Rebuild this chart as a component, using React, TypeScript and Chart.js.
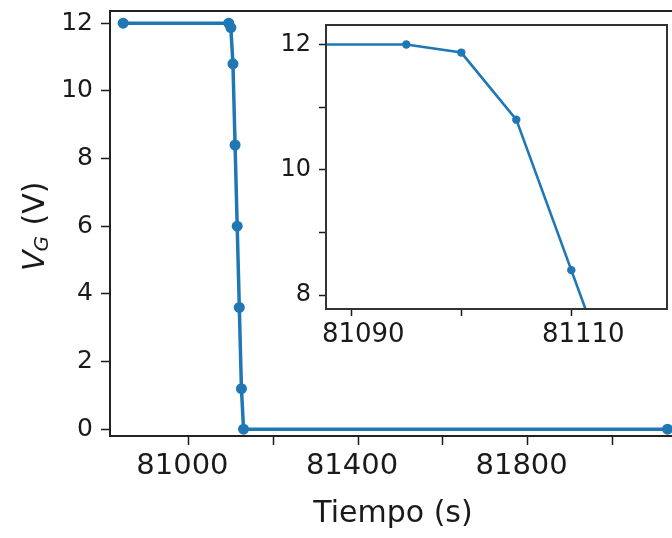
import React, { useEffect, useRef } from "react";
import { Chart, registerables } from "chart.js";

Chart.register(...registerables);

// Gate voltage V_G measured over time (s)
const TIME_S = [80846, 81095, 81100, 81105, 81110, 81115, 81120, 81125, 81130, 82130];
const VG_V = [12, 12, 11.87, 10.8, 8.4, 6.0, 3.6, 1.2, 0, 0];

// Main axes
const MAIN_X_TICKS = [81000, 81200, 81400, 81600, 81800, 82000];
const MAIN_X_LABELS = [81000, 81400, 81800];
const MAIN_Y_TICKS = [0, 2, 4, 6, 8, 10, 12];
const MAIN_X_RANGE = [80815, 82183];
const MAIN_Y_RANGE = [-0.2, 12.36];

// Zoomed inset around the start of the drop
const INSET_X_TICKS = [81090, 81100, 81110];
const INSET_X_LABELS = [81090, 81110];
const INSET_Y_TICKS = [8, 9, 10, 11, 12];
const INSET_Y_LABELS = [8, 10, 12];
const INSET_X_RANGE = [81087.7, 81118.7];
const INSET_Y_RANGE = [7.78, 12.31];

const X_TITLE = "Tiempo (s)";
const Y_TITLE_MAIN = "V";
const Y_TITLE_SUB = "G";
const Y_TITLE_UNIT = " (V)";

const LINE_COLOR = "#1f77b4";
const INK = "#1a1a1a";
const FONT = '"DejaVu Sans", sans-serif';

const points = () => TIME_S.map((t, i) => ({ x: t, y: VG_V[i] }));

const framePlugin = (id: string, color: string, width: number) => ({
  id,
  afterDraw(chart: any) {
    const { ctx, chartArea } = chart;
    const { left, top, right, bottom } = chartArea;
    ctx.save();
    ctx.strokeStyle = color;
    ctx.lineWidth = width;
    ctx.strokeRect(left, top, right - left, bottom - top);
    ctx.restore();
  },
});

const titlesPlugin = {
  id: "axisTitles",
  afterDraw(chart: any) {
    const { ctx } = chart;
    ctx.save();
    ctx.fillStyle = INK;
    ctx.textBaseline = "alphabetic";
    ctx.textAlign = "center";
    ctx.font = `30px ${FONT}`;
    ctx.fillText(X_TITLE, 393, 522);

    ctx.translate(44, 271);
    ctx.rotate(-Math.PI / 2);
    ctx.textAlign = "left";
    ctx.font = `italic 30px ${FONT}`;
    ctx.fillText(Y_TITLE_MAIN, 0, 0);
    let w = ctx.measureText(Y_TITLE_MAIN).width;
    ctx.font = `italic 20px ${FONT}`;
    ctx.fillText(Y_TITLE_SUB, w - 1, 4);
    w += ctx.measureText(Y_TITLE_SUB).width;
    ctx.font = `30px ${FONT}`;
    ctx.fillText(Y_TITLE_UNIT, w, 0);
    ctx.restore();
  },
};

function fixedTicks(values: number[]) {
  return (axis: any) => {
    axis.ticks = values.map((v) => ({ value: v }));
  };
}

function labelOnly(values: number[]) {
  return (value: any) => (values.includes(Number(value)) ? String(value) : "");
}

export default function App() {
  const mainRef = useRef<HTMLCanvasElement | null>(null);
  const insetRef = useRef<HTMLCanvasElement | null>(null);

  useEffect(() => {
    if (!mainRef.current || !insetRef.current) return;

    const main = new Chart(mainRef.current, {
      type: "line",
      data: {
        datasets: [
          {
            data: points(),
            borderColor: LINE_COLOR,
            backgroundColor: LINE_COLOR,
            borderWidth: 3.5,
            pointRadius: 5.5,
            pointBorderWidth: 0,
            pointBackgroundColor: LINE_COLOR,
            tension: 0,
          },
        ],
      },
      options: {
        responsive: false,
        animation: false,
        layout: { padding: { top: 11, right: 10, left: 0, bottom: 0 } },
        plugins: { legend: { display: false }, tooltip: { enabled: false } },
        scales: {
          x: {
            type: "linear",
            min: MAIN_X_RANGE[0],
            max: MAIN_X_RANGE[1],
            afterBuildTicks: fixedTicks(MAIN_X_TICKS),
            afterFit: (s: any) => {
              s.height = 538 - 436;
              s.paddingLeft = 0;
              s.paddingRight = 0;
            },
            grid: {
              display: true,
              drawOnChartArea: false,
              drawTicks: true,
              tickLength: 9,
              tickWidth: 1.5,
              tickColor: INK,
            },
            border: { display: false },
            ticks: {
              autoSkip: false,
              maxRotation: 0,
              padding: 4,
              labelOffset: -6,
              color: INK,
              font: { family: FONT, size: 29, lineHeight: 1.2 },
              callback: labelOnly(MAIN_X_LABELS),
            },
          },
          y: {
            type: "linear",
            min: MAIN_Y_RANGE[0],
            max: MAIN_Y_RANGE[1],
            afterBuildTicks: fixedTicks(MAIN_Y_TICKS),
            afterFit: (s: any) => {
              s.width = 110;
              s.paddingTop = 0;
              s.paddingBottom = 0;
            },
            grid: {
              display: true,
              drawOnChartArea: false,
              drawTicks: true,
              tickLength: 9,
              tickWidth: 1.5,
              tickColor: INK,
            },
            border: { display: false },
            ticks: {
              padding: 8,
              color: INK,
              font: { family: FONT, size: 25, lineHeight: 1.2 },
              callback: (v: any) => String(v),
            },
          },
        },
      },
      plugins: [framePlugin("mainFrame", "#222", 2), titlesPlugin],
    });

    const inset = new Chart(insetRef.current, {
      type: "line",
      data: {
        datasets: [
          {
            data: points(),
            borderColor: LINE_COLOR,
            backgroundColor: LINE_COLOR,
            borderWidth: 2.6,
            pointRadius: 4.2,
            pointBorderWidth: 0,
            pointBackgroundColor: LINE_COLOR,
            tension: 0,
          },
        ],
      },
      options: {
        responsive: false,
        animation: false,
        layout: { padding: { top: 9, right: 5, left: 0, bottom: 0 } },
        plugins: { legend: { display: false }, tooltip: { enabled: false } },
        scales: {
          x: {
            type: "linear",
            min: INSET_X_RANGE[0],
            max: INSET_X_RANGE[1],
            afterBuildTicks: fixedTicks(INSET_X_TICKS),
            afterFit: (s: any) => {
              s.height = 340 - 293;
              s.paddingLeft = 0;
              s.paddingRight = 0;
            },
            grid: {
              display: true,
              drawOnChartArea: false,
              drawTicks: true,
              tickLength: 7,
              tickWidth: 1.5,
              tickColor: INK,
            },
            border: { display: false },
            ticks: {
              autoSkip: false,
              maxRotation: 0,
              padding: 4,
              labelOffset: 12,
              color: INK,
              font: { family: FONT, size: 26, lineHeight: 1.2 },
              callback: labelOnly(INSET_X_LABELS),
            },
          },
          y: {
            type: "linear",
            min: INSET_Y_RANGE[0],
            max: INSET_Y_RANGE[1],
            afterBuildTicks: fixedTicks(INSET_Y_TICKS),
            afterFit: (s: any) => {
              s.width = 56;
              s.paddingTop = 0;
              s.paddingBottom = 0;
            },
            grid: {
              display: true,
              drawOnChartArea: false,
              drawTicks: true,
              tickLength: 7,
              tickWidth: 1.5,
              tickColor: INK,
            },
            border: { display: false },
            ticks: {
              padding: 8,
              color: INK,
              font: { family: FONT, size: 24, lineHeight: 1.2 },
              callback: labelOnly(INSET_Y_LABELS),
            },
          },
        },
      },
      plugins: [framePlugin("insetFrame", "#333", 2)],
    });

    return () => {
      main.destroy();
      inset.destroy();
    };
  }, []);

  return (
    <div
      style={{
        position: "fixed",
        left: 0,
        top: 0,
        width: 672,
        height: 538,
        overflow: "hidden",
        background: "#fff",
      }}
    >
      <canvas
        ref={mainRef}
        width={700}
        height={538}
        style={{ position: "absolute", left: 0, top: 0, width: 700, height: 538 }}
      />
      <canvas
        ref={insetRef}
        width={402}
        height={340}
        style={{
          position: "absolute",
          left: 270,
          top: 16,
          width: 402,
          height: 340,
          background: "#fff",
        }}
      />
    </div>
  );
}
